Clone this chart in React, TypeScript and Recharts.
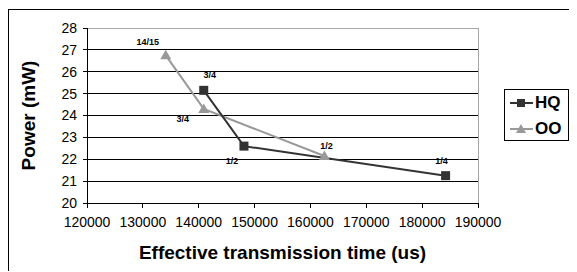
import React from "react";
import { CartesianGrid, LabelList, Line, LineChart, ReferenceLine, XAxis, YAxis } from "recharts";

const timeTicks = [120000, 130000, 140000, 150000, 160000, 170000, 180000, 190000];
const powerTicks = [20, 21, 22, 23, 24, 25, 26, 27, 28];

const hqTime = [140900, 148100, 184200];
const hqPower = [25.15, 22.6, 21.25];
const hqRates = ["3/4", "1/2", "1/4"];

const ooTime = [134100, 140900, 162500];
const ooPower = [26.75, 24.3, 22.15];
const ooRates = ["14/15", "3/4", "1/2"];

const hqData = hqTime.map((time, i) => ({ time, power: hqPower[i], rate: hqRates[i] }));
const ooData = ooTime.map((time, i) => ({ time, power: ooPower[i], rate: ooRates[i] }));

const HQ_COLOR = "#333333";
const OO_COLOR = "#999999";
const FONT = "'Liberation Sans', Arial, sans-serif";

// label nudges relative to each point
const hqNudge = [[6, -15], [-12, 15], [-4, -15]];
const ooNudge = [[-18, -13], [-21, 10], [2, -10]];

function SquareDot({ cx, cy }: any) {
  if (cx == null || cy == null) return null;
  return <rect x={cx - 4.5} y={cy - 4.5} width={9} height={9} fill={HQ_COLOR} />;
}

function TriangleDot({ cx, cy }: any) {
  if (cx == null || cy == null) return null;
  return <polygon points={`${cx},${cy - 5.5} ${cx + 5.5},${cy + 4} ${cx - 5.5},${cy + 4}`} fill={OO_COLOR} />;
}

const rateLabel = (nudge: number[][]) => (props: any) => {
  const { x, y, value, index } = props;
  const [dx, dy] = nudge[index] ?? [0, -12];
  return (
    <text x={x + dx} y={y + dy} textAnchor="middle" dominantBaseline="central" fontSize={9} fontWeight="bold" fontFamily={FONT} fill="#000">
      {value}
    </text>
  );
};

function LegendBox() {
  const row = (name: string, color: string, square: boolean) => (
    <div style={{ display: "flex", alignItems: "center", height: 26 }}>
      <svg width={26} height={14}>
        <line x1={2} y1={7} x2={25} y2={7} stroke={color} strokeWidth={2} />
        {square ? <rect x={9} y={3} width={8} height={8} fill={color} /> : <polygon points="13,2 18,11 8,11" fill={color} />}
      </svg>
      <span style={{ fontFamily: FONT, fontWeight: "bold", fontSize: 17, color: "#000", marginLeft: 1 }}>{name}</span>
    </div>
  );
  return (
    <div style={{ position: "absolute", left: 496, top: 80, width: 65, height: 52, border: "1px solid #000", boxSizing: "border-box", background: "#fff", paddingLeft: 3 }}>
      {row("HQ", HQ_COLOR, true)}
      {row("OO", OO_COLOR, false)}
    </div>
  );
}

export default function App() {
  return (
    <div style={{ position: "relative", top: 1, width: 569, height: 263 }}>
      <div style={{ position: "absolute", inset: 0, borderLeft: "1px solid #000", borderTop: "1px solid #000" }} />
      <div style={{ position: "absolute", left: 0, top: 0 }}>
        <LineChart width={569} height={263} margin={{ top: 19, right: 99, bottom: 0, left: 0 }}>
          <CartesianGrid vertical={false} stroke="#000" strokeWidth={1} shapeRendering="crispEdges" />
          <XAxis
            dataKey="time"
            type="number"
            domain={[120000, 190000]}
            ticks={timeTicks}
            interval={0}
            height={69}
            tickSize={5}
            tickMargin={9}
            stroke="#000"
            shapeRendering="crispEdges"
            tick={{ fill: "#000", fontSize: 14, fontFamily: FONT }}
            allowDuplicatedCategory={false}
            label={{
              content: (p: any) => {
                const vb = p.viewBox;
                return (
                  <text x={vb.x + vb.width / 2} y={243} textAnchor="middle" dominantBaseline="central" fontSize={19} fontWeight="bold" fontFamily={FONT} fill="#000">
                    Effective transmission time (us)
                  </text>
                );
              },
            }}
          />
          <YAxis
            type="number"
            domain={[20, 28]}
            ticks={powerTicks}
            interval={0}
            width={79}
            tickSize={4}
            tickMargin={6}
            stroke="#000"
            shapeRendering="crispEdges"
            tick={{ fill: "#000", fontSize: 14, fontFamily: FONT }}
            label={{
              content: (p: any) => {
                const vb = p.viewBox;
                const cy = vb.y + vb.height / 2;
                return (
                  <text x={20} y={cy} transform={`rotate(-90, 20, ${cy})`} textAnchor="middle" dominantBaseline="central" fontSize={19} fontWeight="bold" fontFamily={FONT} fill="#000">
                    Power (mW)
                  </text>
                );
              },
            }}
          />
          <ReferenceLine y={28} stroke="#a6a6a6" strokeWidth={1} shapeRendering="crispEdges" />
          <ReferenceLine x={190000} stroke="#a6a6a6" strokeWidth={1} shapeRendering="crispEdges" />
          <Line data={ooData} dataKey="power" name="OO" stroke={OO_COLOR} strokeWidth={2} dot={<TriangleDot />} activeDot={false} isAnimationActive={false}>
            <LabelList dataKey="rate" content={rateLabel(ooNudge)} />
          </Line>
          <Line data={hqData} dataKey="power" name="HQ" stroke={HQ_COLOR} strokeWidth={2} dot={<SquareDot />} activeDot={false} isAnimationActive={false}>
            <LabelList dataKey="rate" content={rateLabel(hqNudge)} />
          </Line>
        </LineChart>
      </div>
      <LegendBox />
    </div>
  );
}
